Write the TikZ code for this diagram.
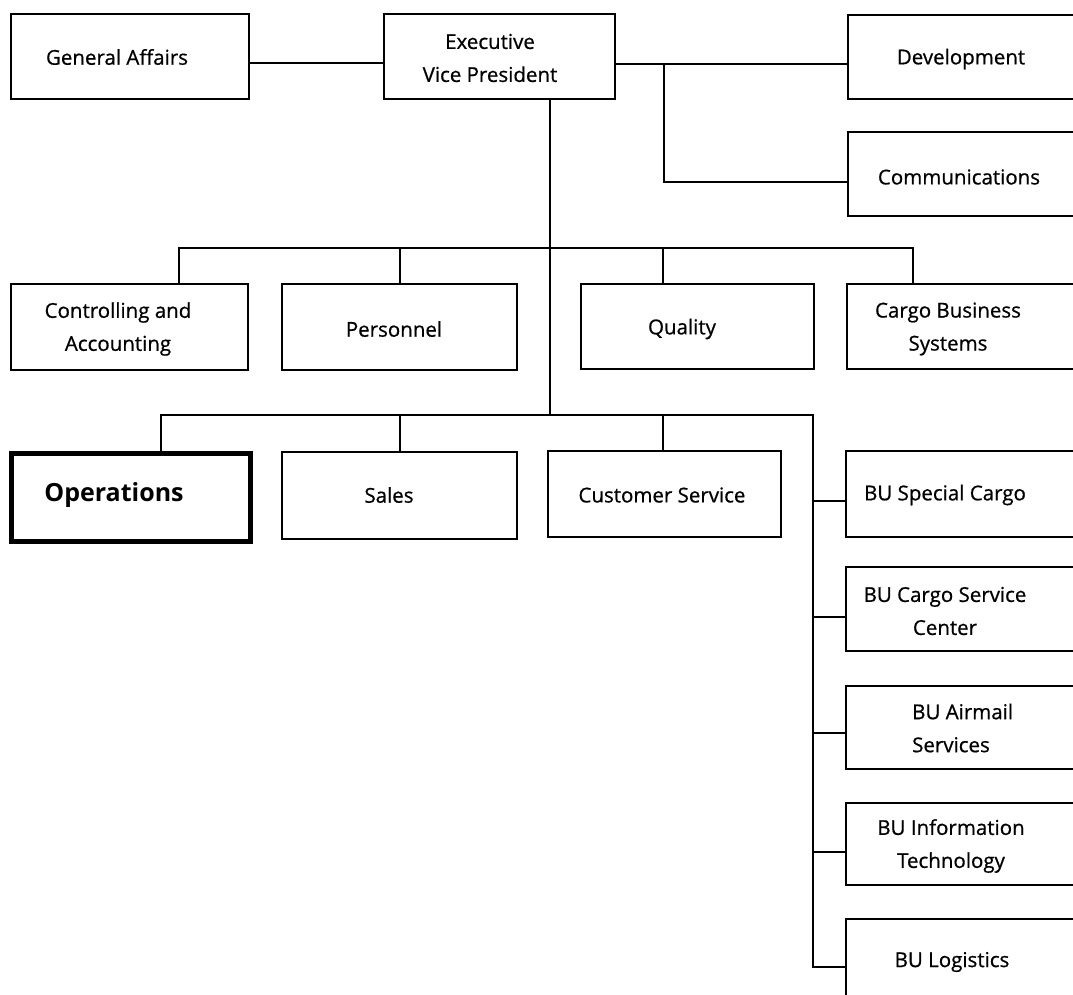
\documentclass[tikz,border=0pt]{standalone}
\usepackage{fontspec}
\setmainfont{Open Sans}[FakeBold=0.7]
\newfontfamily\headfont{Open Sans Bold}
\usetikzlibrary{calc}
\begin{document}
\begin{tikzpicture}[x=1pt,y=-1pt,
  box/.style={draw=black, line width=2pt, anchor=north west, inner sep=0pt},
  headbox/.style={box, line width=5pt},
  lbl/.style={font=\fontsize{20.5}{33}\selectfont, align=center, inner sep=0pt},
  leftlbl/.style={lbl, align=left, anchor=west},
  headlbl/.style={font=\fontsize{25}{30}\headfont, inner sep=0pt},
  wire/.style={line width=2.5pt, line cap=rect}]
\useasboundingbox (0,0) rectangle (1073,995);
\clip (0,0) rectangle (1073,995);
\fill[white] (0,0) rectangle (1073,995);

% ---- top row ----
\node[box, minimum width=238pt, minimum height=85pt] (ga) at (10,13) {};
\node[lbl] (ga-t) at (117,57) {General Affairs};
\node[box, minimum width=231pt, minimum height=85pt] (evp) at (383,13) {};
\node[lbl] (evp-t) at (490,58) {Executive\\Vice President};
\node[box, minimum width=240pt, minimum height=84pt] (dev) at (847,14) {};
\node[lbl] (dev-t) at (961,59) {Development};
\node[box, minimum width=240pt, minimum height=84pt] (com) at (847,131) {};
\node[lbl] (com-t) at (959,177) {Communications};

% ---- staff row ----
\node[box, minimum width=237pt, minimum height=86pt] (ctrl) at (10,283) {};
\node[lbl] (ctrl-t) at (118,329) {Controlling and\\Accounting};
\node[box, minimum width=235pt, minimum height=86pt] (pers) at (281,283) {};
\node[lbl] (pers-t) at (394,329) {Personnel};
\node[box, minimum width=233pt, minimum height=85pt] (qual) at (580,283) {};
\node[lbl] (qual-t) at (682,329) {Quality};
\node[box, minimum width=240pt, minimum height=85pt] (cbs) at (846,283) {};
\node[lbl] (cbs-t) at (948,329) {Cargo Business\\Systems};

% ---- line row ----
\node[headbox, minimum width=239pt, minimum height=88pt] (ops) at (9,451) {};
\node[headlbl] (ops-t) at (114,495) {Operations};
\node[box, minimum width=235pt, minimum height=87pt] (sales) at (281,451) {};
\node[lbl] (sales-t) at (389,495) {Sales};
\node[box, minimum width=233pt, minimum height=86pt] (cs) at (547,450) {};
\node[lbl] (cs-t) at (662,495) {Customer Service};

% ---- business units ----
\node[box, minimum width=240pt, minimum height=86pt] (bu1) at (845,450) {};
\node[lbl] (bu1-t) at (945,495) {BU Special Cargo};
\node[box, minimum width=240pt, minimum height=84pt] (bu2) at (845,566) {};
\node[lbl] (bu2-t) at (945,611) {BU Cargo Service\\Center};
\node[box, minimum width=240pt, minimum height=83pt] (bu3) at (845,685) {};
\node[leftlbl] (bu3-t) at (912,728) {BU Airmail\\Services};
\node[box, minimum width=240pt, minimum height=82pt] (bu4) at (845,802) {};
\node[lbl] (bu4-t) at (951,846) {BU Information\\Technology};
\node[box, minimum width=240pt, minimum height=84pt] (bu5) at (845,918) {};
\node[lbl] (bu5-t) at (952,962) {BU Logistics};

% ---- junction points ----
\coordinate (jga) at (316,63);
\coordinate (jdev) at (664,64);
\coordinate (jcom) at (664,182);
\coordinate (s1) at (550,248);
\coordinate (s2) at (550,415);
\coordinate (b1a) at (179,248);
\coordinate (b1b) at (400,248);
\coordinate (b1c) at (663,248);
\coordinate (b1d) at (913,248);
\coordinate (b2a) at (161,415);
\coordinate (b2b) at (400,415);
\coordinate (b2c) at (663,415);
\coordinate (b2d) at (813,415);
\coordinate (r1) at (813,501);
\coordinate (r2) at (813,617);
\coordinate (r3) at (813,733);
\coordinate (r4) at (813,852);
\coordinate (r5) at (813,967);

% ---- connectors ----
\draw[wire] (ga.east |- jga) -- (evp.west |- jga);
\draw[wire] (evp.east |- jdev) -- (dev.west |- jdev);
\draw[wire] (jdev) -- (jcom) -- (com.west |- jcom);
\draw[wire] (s1 |- evp.south) -- (s2);

\draw[wire] (b1a) -- (b1d);
\draw[wire] (b1a) -- (b1a |- ctrl.north);
\draw[wire] (b1b) -- (b1b |- pers.north);
\draw[wire] (b1c) -- (b1c |- qual.north);
\draw[wire] (b1d) -- (b1d |- cbs.north);

\draw[wire] (b2a) -- (b2d) -- (r5);
\draw[wire] (b2a) -- (b2a |- ops.north);
\draw[wire] (b2b) -- (b2b |- sales.north);
\draw[wire] (b2c) -- (b2c |- cs.north);

\draw[wire] (r1) -- (bu1.west |- r1);
\draw[wire] (r2) -- (bu2.west |- r2);
\draw[wire] (r3) -- (bu3.west |- r3);
\draw[wire] (r4) -- (bu4.west |- r4);
\draw[wire] (r5) -- (bu5.west |- r5);
\end{tikzpicture}
\end{document}
